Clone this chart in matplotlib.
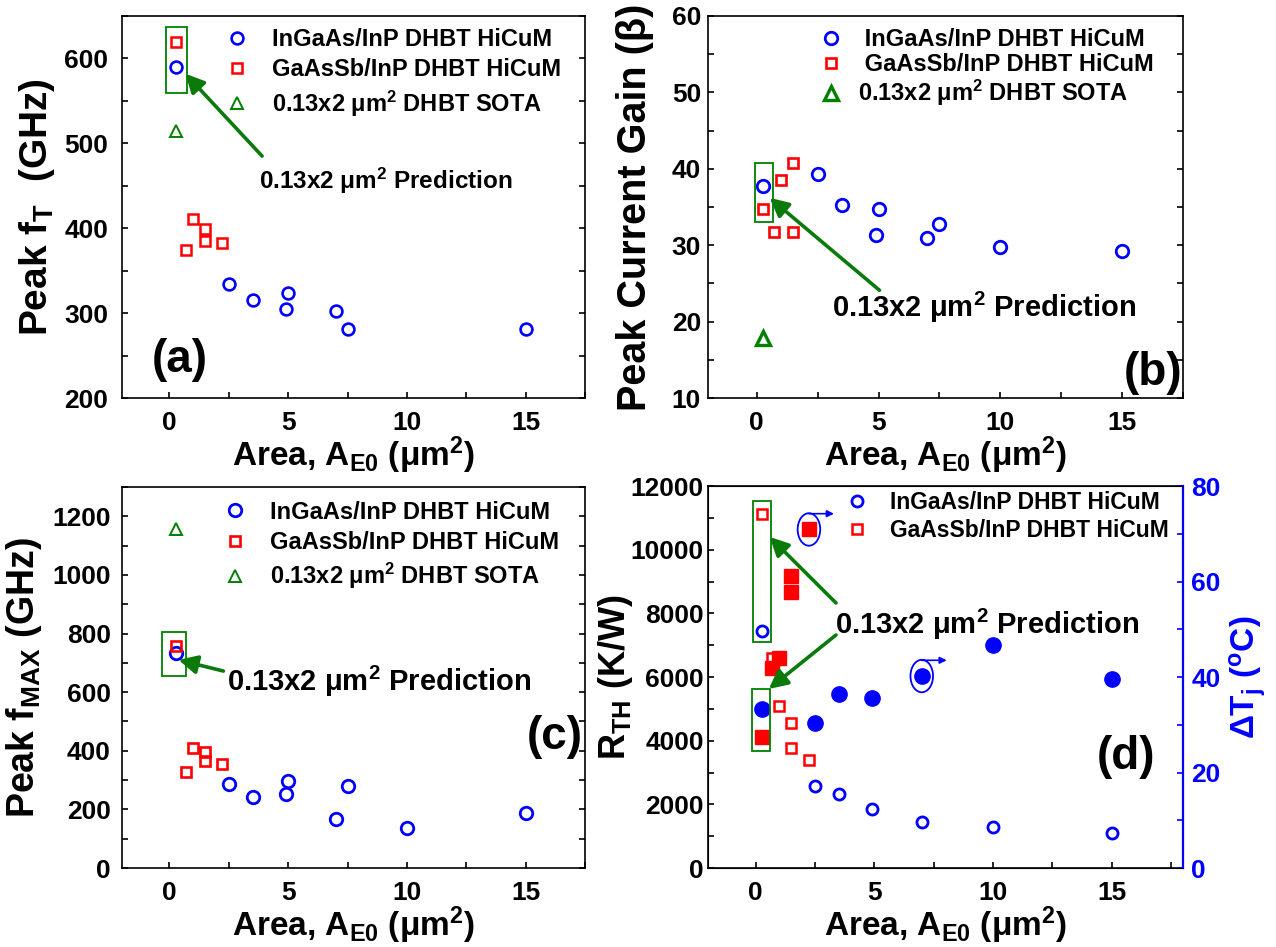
import matplotlib
matplotlib.use("Agg")
import matplotlib.pyplot as plt
from matplotlib.patches import Rectangle, Ellipse
from matplotlib.ticker import MultipleLocator

plt.rcParams['font.family'] = ['Liberation Sans', 'DejaVu Sans']
plt.rcParams['font.weight'] = 'bold'
plt.rcParams['mathtext.fontset'] = 'custom'
plt.rcParams['mathtext.rm'] = 'Liberation Sans:bold'
plt.rcParams['mathtext.bf'] = 'Liberation Sans:bold'
plt.rcParams['mathtext.it'] = 'Liberation Sans:bold:italic'
plt.rcParams['mathtext.sf'] = 'Liberation Sans:bold'
plt.rcParams['mathtext.default'] = 'rm'

# ---------------- data ----------------
# (a) peak fT
x_in_a = [0.26, 2.5, 3.5, 4.9, 5.0, 7.0, 7.5, 15]
ft_in = [590, 334, 315, 305, 324, 302, 281, 281]
x_gs_a = [0.26, 0.7, 1.0, 1.5, 1.5, 2.2]
ft_gs = [619, 374, 411, 399, 385, 383]
x_sota = [0.26]
ft_sota = [515]

# (b) peak current gain
x_in_b = [0.26, 2.5, 3.5, 4.9, 5.0, 7.0, 7.5, 10, 15]
beta_in = [37.8, 39.3, 35.3, 31.4, 34.7, 30.9, 32.8, 29.7, 29.3]
x_gs_b = [0.26, 0.7, 1.0, 1.5, 1.5]
beta_gs = [34.8, 31.7, 38.5, 40.8, 31.7]
beta_sota = [17.9]

# (c) peak fMAX
x_in_c = [0.26, 2.5, 3.5, 4.9, 5.0, 7.0, 7.5, 10, 15]
fmax_in = [734, 287, 242, 253, 297, 167, 280, 137, 188]
x_gs_c = [0.26, 0.7, 1.0, 1.5, 1.5, 2.2]
fmax_gs = [758, 328, 410, 396, 365, 355]
fmax_sota = [1157]

# (d) thermal resistance (left) and junction temperature rise (right)
x_in_d = [0.26, 2.5, 3.5, 4.9, 7.0, 10, 15]
rth_in = [7450, 2580, 2330, 1850, 1450, 1290, 1100]
dtj_in = [33.2, 30.3, 36.4, 35.7, 40.2, 46.7, 39.6]
x_gs_d = [0.26, 0.7, 1.0, 1.5, 1.5, 2.25]
rth_gs = [11120, 6600, 5090, 4555, 3770, 3393]
dtj_gs = [27.5, 41.8, 43.9, 61.2, 57.7, 70.9]

lab_in = 'InGaAs/InP DHBT HiCuM'
lab_gs = 'GaAsSb/InP DHBT HiCuM'
lab_sota = '0.13x2 μm$^{2}$ DHBT SOTA'
lab_pred = '0.13x2 μm$^{2}$ Prediction'
xlab = 'Area, A$_{E0}$ (μm$^{2}$)'

BLUE = '#0000FF'
RED = '#FF0000'
GREEN = '#008000'
AGREEN = '#0A7A0A'

W, H = 1276, 947
fig = plt.figure(figsize=(W / 100, H / 100), dpi=100)


def px_axes(l, t, r, b):
    return fig.add_axes([l / W, 1 - b / H, (r - l) / W, (b - t) / H])


ax_a = px_axes(122, 16, 585, 398)
ax_b = px_axes(708, 16, 1183, 398)
ax_c = px_axes(122, 487, 585, 868)
ax_d = px_axes(708, 486, 1183, 868)

TICKFS = 19


def style(ax, ypad, right_ticks=True):
    ax.tick_params(axis='both', which='both', direction='in', width=1.2,
                   labelsize=TICKFS, right=right_ticks, top=False, length=4.5)
    ax.tick_params(axis='x', pad=9)
    ax.tick_params(axis='y', pad=ypad)
    for s in ax.spines.values():
        s.set_linewidth(1.2)
    ax.xaxis.set_major_locator(MultipleLocator(5))
    ax.xaxis.set_minor_locator(MultipleLocator(2.5))
    for t in ax.get_xticklabels() + ax.get_yticklabels():
        t.set_fontweight('bold')
    ax.set_xlabel(xlab, fontsize=24, fontweight='bold', labelpad=0)


def pred_annot(ax, rects, text_xy, arrows, fs):
    for (x0, y0, x1, y1) in rects:
        ax.add_patch(Rectangle((x0, y0), x1 - x0, y1 - y0, fill=False,
                               edgecolor=GREEN, lw=1.3, zorder=4))
    ax.text(text_xy[0], text_xy[1], lab_pred, fontsize=fs, fontweight='bold',
            ha='left', va='center', zorder=6)
    for (tail, head) in arrows:
        ax.annotate('', xy=head, xytext=tail,
                    arrowprops=dict(arrowstyle='-|>', color=AGREEN, lw=2.6,
                                    mutation_scale=28, shrinkA=0, shrinkB=0),
                    zorder=5)


def legend(ax, anchor, size, htp, ls):
    ax.legend(loc='upper left', bbox_to_anchor=anchor, frameon=False,
              prop={'weight': 'bold', 'size': size}, handlelength=1.0,
              handletextpad=htp, labelspacing=ls, borderpad=0, borderaxespad=0)


# ---------------- (a) ----------------
ax = ax_a
ax.plot(x_in_a, ft_in, 'o', ms=8.5, mfc='none', mec=BLUE, mew=1.9, label=lab_in, zorder=3)
ax.plot(x_gs_a, ft_gs, 's', ms=7.2, mfc='none', mec=RED, mew=1.8, label=lab_gs, zorder=3)
ax.plot(x_sota, ft_sota, '^', ms=8, mfc='none', mec=GREEN, mew=1.4, label=lab_sota, zorder=3)
ax.set_xlim(-2, 17.5)
ax.set_ylim(200, 650)
ax.yaxis.set_major_locator(MultipleLocator(100))
ax.yaxis.set_minor_locator(MultipleLocator(50))
style(ax, ypad=10)
ax.set_ylabel('Peak f$_{T}$  (GHz)', fontsize=28, fontweight='bold', labelpad=5)
pred_annot(ax, [(-0.13, 559, 0.73, 637)], (3.75, 456), [((3.9, 485), (0.67, 582))], 17.5)
legend(ax, (0.223, 0.968), 17, 0.98, 0.3)
ax.text(0.065, 0.10, '(a)', transform=ax.transAxes, fontsize=33,
        fontweight='bold', ha='left', va='center')

# ---------------- (b) ----------------
ax = ax_b
ax.plot(x_in_b, beta_in, 'o', ms=9, mfc='none', mec=BLUE, mew=2.0, label=' ' + lab_in, zorder=3)
ax.plot(x_gs_b, beta_gs, 's', ms=7.5, mfc='none', mec=RED, mew=1.9, label=' ' + lab_gs, zorder=3)
ax.plot(x_sota, beta_sota, '^', ms=10, mfc='none', mec=GREEN, mew=2.4, label=lab_sota, zorder=3)
ax.set_xlim(-2, 17.5)
ax.set_ylim(10, 60)
ax.yaxis.set_major_locator(MultipleLocator(10))
ax.yaxis.set_minor_locator(MultipleLocator(5))
style(ax, ypad=5)
ax.set_ylabel('Peak Current Gain (β)', fontsize=28.5, fontweight='bold', labelpad=13)
pred_annot(ax, [(-0.08, 33.0, 0.66, 40.7)], (3.1, 21.8), [((5.04, 24.1), (0.53, 36.2))], 21)
legend(ax, (0.234, 0.968), 17, 0.64, 0.08)
ax.text(0.998, 0.065, '(b)', transform=ax.transAxes, fontsize=33,
        fontweight='bold', ha='right', va='center')

# ---------------- (c) ----------------
ax = ax_c
ax.plot(x_in_c, fmax_in, 'o', ms=9, mfc='none', mec=BLUE, mew=2.0, label=lab_in, zorder=3)
ax.plot(x_gs_c, fmax_gs, 's', ms=7.5, mfc='none', mec=RED, mew=1.9, label=lab_gs, zorder=3)
ax.plot(x_sota, fmax_sota, '^', ms=8, mfc='none', mec=GREEN, mew=1.4, label=lab_sota, zorder=3)
ax.set_xlim(-2, 17.5)
ax.set_ylim(0, 1300)
ax.yaxis.set_major_locator(MultipleLocator(200))
ax.yaxis.set_minor_locator(MultipleLocator(100))
style(ax, ypad=8)
ax.set_ylabel('Peak f$_{MAX}$ (GHz)', fontsize=27, fontweight='bold', labelpad=6)
pred_annot(ax, [(-0.3, 655, 0.7, 805)], (2.44, 635), [((2.27, 672), (0.38, 710))], 21)
legend(ax, (0.218, 0.964), 17, 0.98, 0.3)
ax.text(0.996, 0.344, '(c)', transform=ax.transAxes, fontsize=33,
        fontweight='bold', ha='right', va='center')

# ---------------- (d) ----------------
ax = ax_d
ax2 = ax.twinx()
ax.plot(x_in_d, rth_in, 'o', ms=8, mfc='none', mec=BLUE, mew=2.0, label=lab_in, zorder=3)
ax.plot(x_gs_d, rth_gs, 's', ms=7.2, mfc='none', mec=RED, mew=1.8, label=lab_gs, zorder=3)
ax.set_xlim(-2, 18)
ax.set_ylim(0, 12000)
ax.yaxis.set_major_locator(MultipleLocator(2000))
ax.yaxis.set_minor_locator(MultipleLocator(1000))
style(ax, ypad=3, right_ticks=False)
ax.set_ylabel('R$_{TH}$ (K/W)', fontsize=26, fontweight='bold', labelpad=-3)

ax2.plot(x_in_d, dtj_in, 'o', ms=11, color=BLUE, zorder=3)
ax2.plot(x_gs_d, dtj_gs, 's', ms=9.5, color=RED, zorder=3)
ax2.set_ylim(0, 80)
ax2.yaxis.set_major_locator(MultipleLocator(20))
ax2.yaxis.set_minor_locator(MultipleLocator(10))
ax2.tick_params(axis='y', which='both', direction='in', colors=BLUE,
                labelsize=TICKFS, width=1.2, length=4.5, pad=6)
ax2.spines['right'].set_color(BLUE)
ax2.spines['right'].set_linewidth(1.6)
for t in ax2.get_yticklabels():
    t.set_fontweight('bold')
ax2.set_ylabel('ΔT$_{j}$ ($^{o}$C)', fontsize=24, fontweight='bold',
               color=BLUE, labelpad=5)

# ellipses with arrows marking the points read on the right axis
for (ex, ey) in [(x_gs_d[5], dtj_gs[5]), (x_in_d[4], dtj_in[4])]:
    ax2.add_patch(Ellipse((ex, ey), 0.95, 6.8, fill=False, edgecolor=BLUE,
                          lw=1.3, zorder=4))
    ax2.annotate('', xy=(ex + 1.05, ey + 3.3), xytext=(ex, ey + 3.3),
                 arrowprops=dict(arrowstyle='-|>', color=BLUE, lw=1.2,
                                 mutation_scale=10, shrinkA=0, shrinkB=0))

k = 12000 / 80  # left-axis units per right-axis unit
pred_annot(ax2,
           [(-0.1, 7110 / k, 0.64, 11540 / k), (-0.14, 3676 / k, 0.6, 5624 / k)],
           (3.34, 7666 / k),
           [((3.39, 8325 / k), (0.6, 10400 / k)),
            ((3.39, 7320 / k), (0.56, 5624 / k))], 21)
legend(ax, (0.289, 0.988), 16.5, 0.94, 0.25)
ax2.text(0.941, 0.29, '(d)', transform=ax2.transAxes, fontsize=33,
         fontweight='bold', ha='right', va='center')

fig.savefig('out.png', dpi=100)
